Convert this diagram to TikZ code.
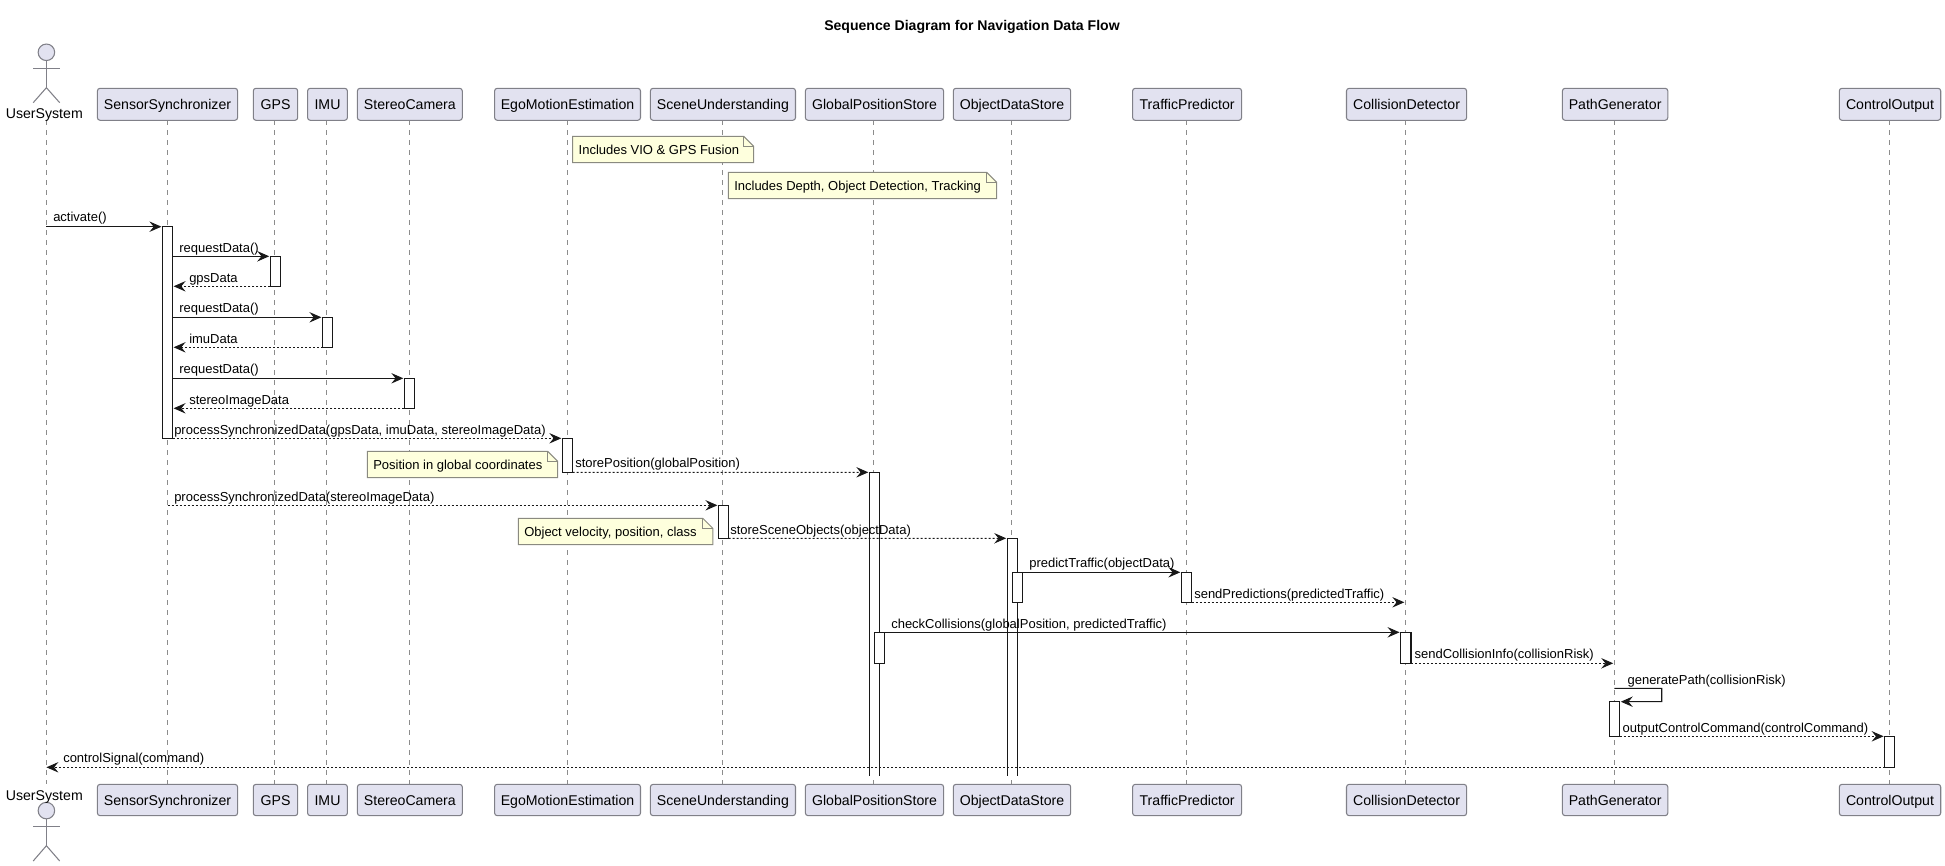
\documentclass[tikz,border=0pt]{standalone}
\usepackage{fontspec}
\setmainfont{Liberation Sans}
\usetikzlibrary{arrows.meta}
\definecolor{partfill}{HTML}{E2E2F0}
\definecolor{partline}{HTML}{808088}
\definecolor{notefill}{HTML}{FEFFDD}
\definecolor{noteline}{HTML}{8A8A80}
\definecolor{ink}{HTML}{181818}
\definecolor{lifegray}{HTML}{8C8C8C}
\tikzset{
  partbox/.style={draw=partline,fill=partfill,line width=0.8pt,rounded corners=2pt,inner sep=0pt,outer sep=0pt,
    font=\fontsize{10.6pt}{12pt}\selectfont,text=black,text height=9.5pt,text depth=2pt},
  lifeline/.style={draw=lifegray,line width=0.65pt,dash pattern=on 3.75pt off 3.75pt},
  activ/.style={draw=ink,fill=white,line width=0.8pt,inner sep=0pt,outer sep=0pt},
  activopen/.style={fill=white,inner sep=0pt,outer sep=0pt},
  activedge/.style={draw=ink,line width=0.8pt},
  msg/.style={draw=ink,line width=0.8pt,-{Stealth[length=9pt,width=7.8pt,inset=3.2pt]},shorten >=0.8pt},
  ret/.style={msg,dash pattern=on 1.5pt off 1.5pt},
  msglabel/.style={anchor=west,inner sep=0pt,font=\fontsize{9.75pt}{11pt}\selectfont,text=black,text height=9.35pt,text depth=2pt},
  notetext/.style={msglabel},
  notebody/.style={draw=noteline,fill=notefill,line width=0.75pt,line join=miter},
  actorpart/.style={draw=partline,line width=0.8pt},
  actorhead/.style={circle,draw=partline,fill=partfill,line width=0.8pt,minimum size=12.4pt,inner sep=0pt,outer sep=0pt},
  actorname/.style={inner sep=0pt,font=\fontsize{10.6pt}{12pt}\selectfont,text=black,text height=9.5pt,text depth=2pt},
  titletext/.style={inner sep=0pt,font=\fontsize{10.55pt}{13pt}\bfseries\selectfont,text=black}
}
% #1 name, #2 x1, #3 y1, #4 x2, #5 y2
\newcommand{\actbox}[5]{%
  \pgfmathsetmacro{\myw}{(#4-#2)*0.75}\pgfmathsetmacro{\myh}{(#5-#3)*0.75}%
  \node[activ,minimum width=\myw pt,minimum height=\myh pt] (#1) at ({(#2+#4)/2},{(#3+#5)/2}) {};}
% activation that is still open at the end of the diagram: no bottom edge
\newcommand{\actopen}[5]{%
  \pgfmathsetmacro{\myw}{(#4-#2)*0.75}\pgfmathsetmacro{\myh}{(#5-#3)*0.75}%
  \node[activopen,minimum width=\myw pt,minimum height=\myh pt] (#1) at ({(#2+#4)/2},{(#3+#5)/2}) {};
  \draw[activedge] (#1.south west) -- (#1.north west) -- (#1.north east) -- (#1.south east);}
% #1 name, #2 x1, #3 x2, #4 text
\newcommand{\partpair}[4]{%
  \pgfmathsetmacro{\myw}{(#3-#2)*0.75}%
  \node[partbox,minimum width=\myw pt,minimum height=24pt] (#1T) at ({(#2+#3)/2},104.3) {#4};
  \node[partbox,minimum width=\myw pt,minimum height=23.5pt] (#1B) at ({(#2+#3)/2},800) {#4};}
% #1 name, #2 x1, #3 y1, #4 x2, #5 y2, #6 text x, #7 text
\newcommand{\notebox}[7]{%
  \path[notebody] (#2,#3) -- (#4-10,#3) -- (#4,#3+10) -- (#4,#5) -- (#2,#5) -- cycle;
  \path[notebody,fill=none] (#4-10,#3) -- (#4-10,#3+10) -- (#4,#3+10);
  \node[notetext] (#1) at (#6,{(#3+#5)/2}) {#7};}
\begin{document}
\begin{tikzpicture}[x=0.75pt,y=-0.75pt]
\useasboundingbox (0,0) rectangle (1945,866);
\node[titletext] (title) at (972,26.6) {Sequence Diagram for Navigation Data Flow};

% lifelines
\foreach \n/\x in {user/46.4,sensor/167.5,gps/274.3,imu/326.3,stereo/409.6,ego/567.6,scene/722.6,global/873.5,object/1011.3,traffic/1186.3,collision/1405.4,path/1614.3,control/1889.3}{
  \coordinate (\n Top) at (\x,120.3);
  \coordinate (\n Bot) at (\x,784.3);
  \draw[lifeline] (\n Top) -- (\n Bot);
}

% participants
\partpair{sensor}{97.4}{237.6}{SensorSynchronizer}
\partpair{gps}{253.3}{297.7}{GPS}
\partpair{imu}{307.6}{347.4}{IMU}
\partpair{stereo}{357.4}{462.3}{StereoCamera}
\partpair{ego}{494.6}{640.5}{EgoMotionEstimation}
\partpair{scene}{650.4}{795.5}{SceneUnderstanding}
\partpair{global}{805.4}{943.6}{GlobalPositionStore}
\partpair{object}{953.3}{1070.7}{ObjectDataStore}
\partpair{traffic}{1132.6}{1241.6}{TrafficPredictor}
\partpair{collision}{1346.5}{1466.6}{CollisionDetector}
\partpair{pathg}{1562.4}{1667.8}{PathGenerator}
\partpair{control}{1839.3}{1940.7}{ControlOutput}

% actor top
\node[actorhead] (headT) at (46.4,52.3) {};
\coordinate (hipT) at (46.4,87.7);
\coordinate (armLT) at (33.2,68.3);
\coordinate (armRT) at (59.7,68.3);
\coordinate (legLT) at (33.2,102.7);
\coordinate (legRT) at (59.7,102.7);
\draw[actorpart] (headT.south) -- (hipT);
\draw[actorpart] (armLT) -- (armRT);
\draw[actorpart] (legLT) -- (hipT) -- (legRT);
\node[actorname] (userT) at (44.3,113.3) {UserSystem};
% actor bottom
\node[actorhead] (headB) at (46.4,810.6) {};
\coordinate (hipB) at (46.4,845.7);
\coordinate (armLB) at (33.2,826.3);
\coordinate (armRB) at (59.7,826.3);
\coordinate (legLB) at (33.2,861);
\coordinate (legRB) at (59.7,861);
\draw[actorpart] (headB.south) -- (hipB);
\draw[actorpart] (armLB) -- (armRB);
\draw[actorpart] (legLB) -- (hipB) -- (legRB);
\node[actorname] (userB) at (44.3,795) {UserSystem};

% activations
\actbox{aSensor}{162.5}{226.7}{172.5}{438.3}
\actbox{aGps}{270.3}{256.3}{280.5}{286.3}
\actbox{aImu}{322.5}{317.3}{332.5}{347.3}
\actbox{aStereo}{404.4}{378.3}{414.6}{408.3}
\actbox{aEgo}{562.4}{438.3}{572.6}{472.3}
\actopen{aGlobal}{869.4}{472.3}{879.7}{775.7}
\actbox{aScene}{718.5}{505.3}{728.5}{538.3}
\actopen{aObject}{1007.3}{538.3}{1017.7}{775.7}
\actbox{aObjectB}{1012.3}{572.3}{1022.9}{602.3}
\actbox{aTraffic}{1181.4}{572.3}{1191.7}{602.3}
\actbox{aGlobalB}{874.5}{632.3}{884.8}{663.3}
\actbox{aCollision}{1400.6}{632.3}{1411}{663.3}
\actbox{aPath}{1609.3}{701.7}{1619.7}{736.3}
\actbox{aControl}{1884.7}{736.3}{1894.7}{767.3}

% notes
\notebox{noteVio}{572.6}{136.3}{753.6}{162.7}{578.4}{Includes VIO \& GPS Fusion}
\notebox{noteDepth}{728.4}{172.3}{996.6}{198.7}{734}{Includes Depth, Object Detection, Tracking}
\notebox{notePos}{367.3}{451.3}{557.6}{477.7}{373}{Position in global coordinates}
\notebox{noteObj}{518.3}{518.3}{712.8}{544.7}{524}{Object velocity, position, class}

% messages
\draw[msg] (userTop |- aSensor.north) -- (aSensor.north west);
\draw[msg] (aSensor.east |- aGps.north) -- (aGps.north west);
\draw[ret] (aGps.south west) -- (aSensor.east |- aGps.south);
\draw[msg] (aSensor.east |- aImu.north) -- (aImu.north west);
\draw[ret] (aImu.south west) -- (aSensor.east |- aImu.south);
\draw[msg] (aSensor.east |- aStereo.north) -- (aStereo.north west);
\draw[ret] (aStereo.south west) -- (aSensor.east |- aStereo.south);
\draw[ret] (aSensor.south east) -- (aEgo.north west);
\draw[ret] (aEgo.south east) -- (aGlobal.north west);
\draw[ret] (sensorTop |- aScene.north) -- (aScene.north west);
\draw[ret] (aScene.south east) -- (aObject.north west);
\draw[msg] (aObjectB.north east) -- (aTraffic.north west);
\draw[ret] (aTraffic.south east) -- (collisionTop |- aTraffic.south);
\draw[msg] (aGlobalB.north east) -- (aCollision.north west);
\draw[ret] (aCollision.south east) -- (pathTop |- aCollision.south);
\coordinate (selfA) at (1661.7,688.3);
\coordinate (selfB) at (1661.7,701.7);
\draw[msg] (pathTop |- selfA) -- (selfA) -- (selfB) -- (aPath.north east);
\draw[ret] (aPath.south east) -- (aControl.north west);
\draw[ret,shorten >=0pt] (aControl.south west) -- (userTop |- aControl.south);

% message labels
\node[msglabel] (m1) at (53,216.7) {activate()};
\node[msglabel] (m2) at (179,247.7) {requestData()};
\node[msglabel] (m3) at (189,277.7) {gpsData};
\node[msglabel] (m4) at (179,307.7) {requestData()};
\node[msglabel] (m5) at (189,338.7) {imuData};
\node[msglabel] (m6) at (179,368.7) {requestData()};
\node[msglabel] (m7) at (189,399.7) {stereoImageData};
\node[msglabel] (m8) at (174,429.7) {processSynchronizedData(gpsData, imuData, stereoImageData)};
\node[msglabel] (m9) at (575,462.7) {storePosition(globalPosition)};
\node[msglabel] (m10) at (174,496.7) {processSynchronizedData(stereoImageData)};
\node[msglabel] (m11) at (730,529.7) {storeSceneObjects(objectData)};
\node[msglabel] (m12) at (1029,562.7) {predictTraffic(objectData)};
\node[msglabel] (m13) at (1194,593.3) {sendPredictions(predictedTraffic)};
\node[msglabel] (m14) at (891,623.7) {checkCollisions(globalPosition, predictedTraffic)};
\node[msglabel] (m15) at (1414.3,653.7) {sendCollisionInfo(collisionRisk)};
\node[msglabel] (m16) at (1627.3,680) {generatePath(collisionRisk)};
\node[msglabel] (m17) at (1622.3,727.3) {outputControlCommand(controlCommand)};
\node[msglabel] (m18) at (63,757.7) {controlSignal(command)};
\end{tikzpicture}
\end{document}
